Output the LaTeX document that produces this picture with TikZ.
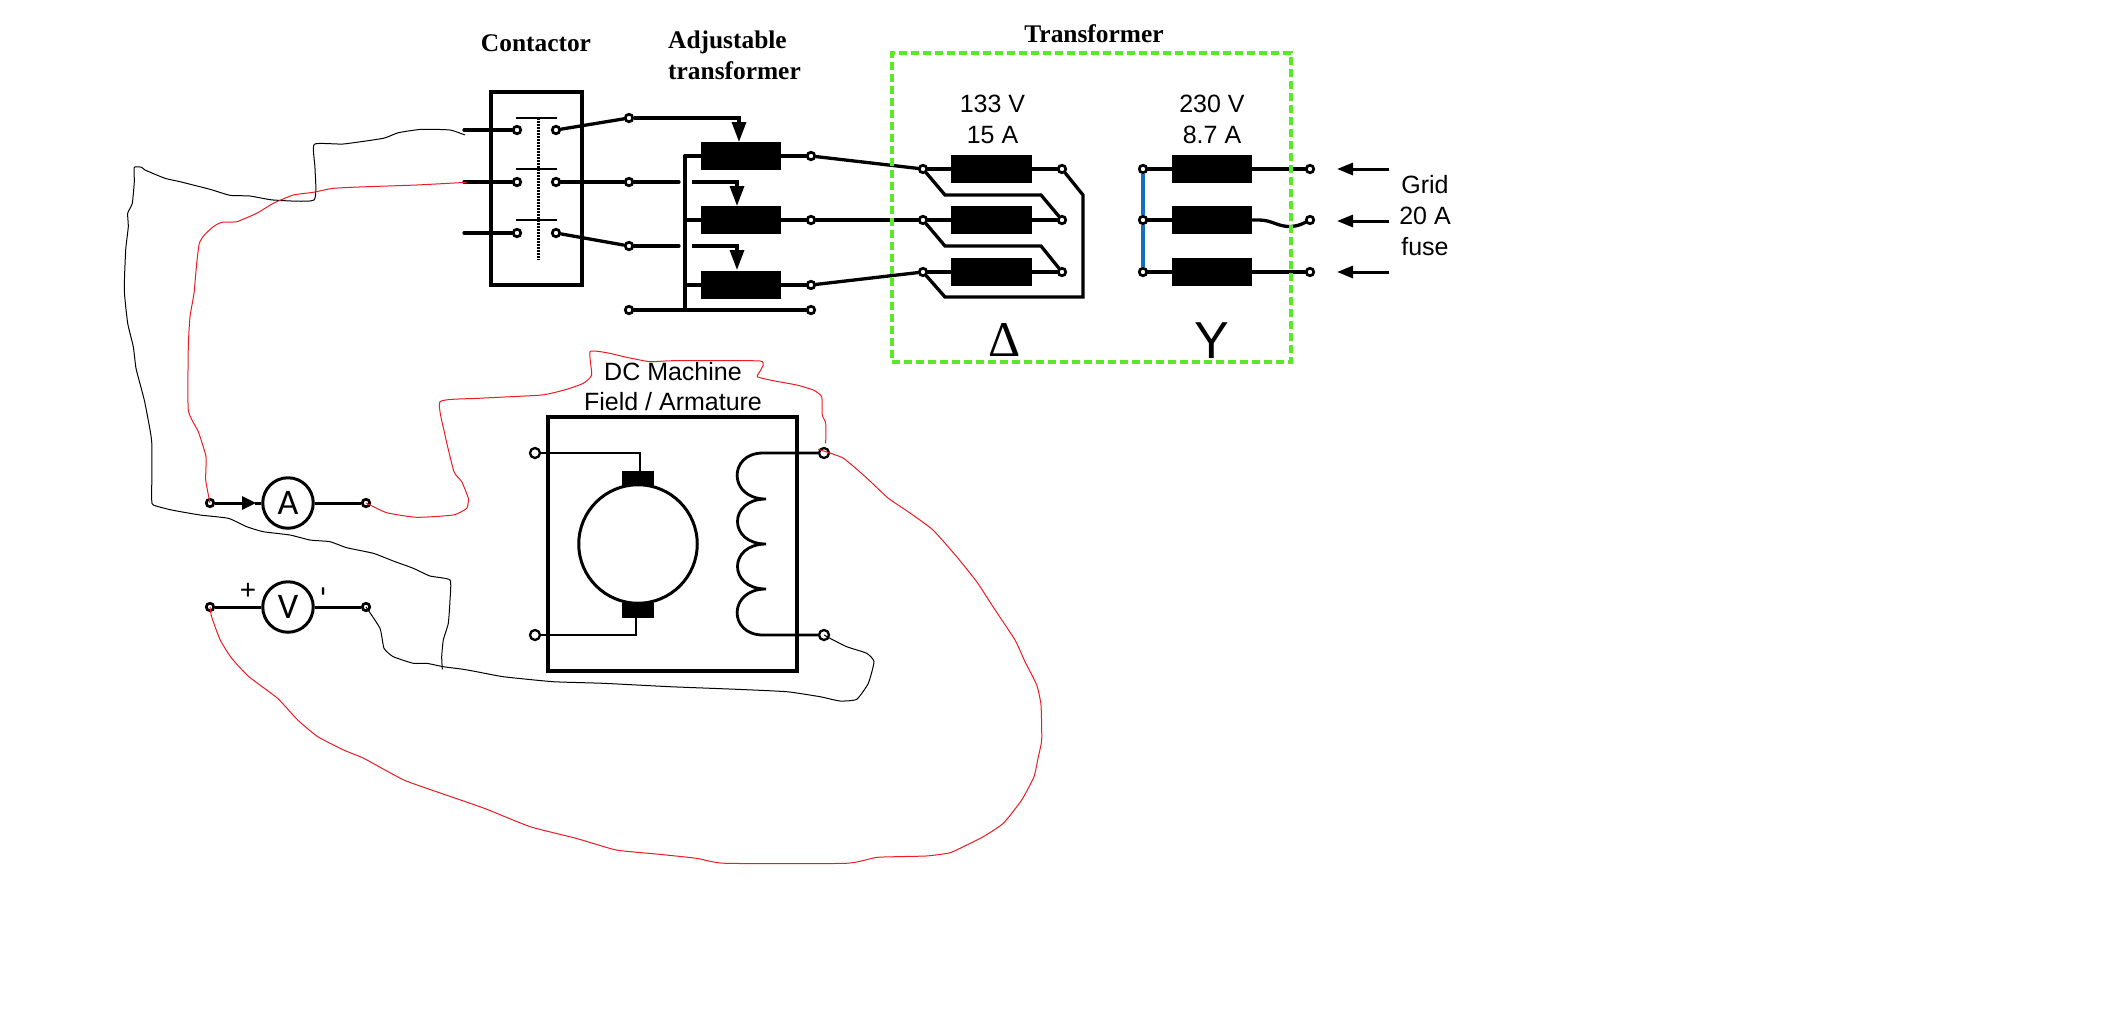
\documentclass[tikz,border=0pt]{standalone}
\usepackage{fontspec}
\setmainfont{Liberation Sans}
\newfontfamily\serifbold{Liberation Serif}
\newfontfamily\meterfont{Carlito}
\usetikzlibrary{arrows.meta}
\tikzset{
  wire/.style={line width=3.3pt,line cap=round,line join=miter},
  thinwire/.style={line width=2.8pt,line join=miter},
  term/.style={circle,draw=black,fill=white,line width=2.7pt,inner sep=0pt,minimum size=7.5pt},
  bigterm/.style={circle,draw=black,fill=white,line width=2.3pt,inner sep=0pt,minimum size=10pt},
  barbox/.style={rectangle,fill=black,inner sep=0pt,minimum width=80.5pt,minimum height=28pt},
  brush/.style={rectangle,fill=black,inner sep=0pt,minimum width=32.5pt,minimum height=15pt},
  tap/.style={line width=3.3pt,-{Triangle[length=20pt,width=14pt]}},
  grid/.style={line width=3pt,-{Triangle[length=16pt,width=12pt]}},
  head/.style={font=\serifbold\bfseries\fontsize{25.4}{31}\selectfont,inner sep=0pt},
  lab/.style={font=\fontsize{25}{31}\selectfont,inner sep=0pt},
  meter/.style={circle,draw=black,fill=white,line width=3pt,inner sep=0pt,minimum size=50.5pt,font=\meterfont\fontsize{36}{36}\selectfont},
  outline/.style={rectangle,draw=black,line width=3.2pt,inner sep=0pt},
  greenbox/.style={rectangle,draw={rgb,255:red,90;green,232;blue,40},line width=3.6pt,dash pattern=on 8pt off 4pt,inner sep=0pt,minimum width=399pt,minimum height=309pt},
  handblack/.style={draw=black,line width=1pt,line join=round},
  handred/.style={draw={rgb,255:red,237;green,28;blue,36},line width=1pt,line join=round}
}
\begin{document}
\begin{tikzpicture}[x=1pt,y=-1pt]
\fill[white] (0,0) rectangle (2113,1018);
\useasboundingbox (0,0) rectangle (2113,1018);

% headings
\node[head] (hcont) at (536,43) {Contactor};
\node[head,align=left,anchor=north west] (hadj) at (668,31) {Adjustable\\transformer};
\node[head] (htrans) at (1094,34) {Transformer};

% contactor
\node[outline,minimum width=91pt,minimum height=193pt] (contbox) at (536.5,188.5) {};
\coordinate (s1) at (464,130); \coordinate (s2) at (464,182); \coordinate (s3) at (464,233);
\node[term] (cl1) at (517,130) {}; \node[term] (cl2) at (517,182) {}; \node[term] (cl3) at (517,233) {};
\node[term] (cr1) at (556,130) {}; \node[term] (cr2) at (556,182) {}; \node[term] (cr3) at (556,233) {};
\draw[wire] (s1) -- (cl1); \draw[wire] (s2) -- (cl2); \draw[wire] (s3) -- (cl3);
\draw[line width=2.8pt] (516,118) -- (557,118) (516,169) -- (557,169) (516,220) -- (557,220);
\draw[line width=3pt,dash pattern=on 2pt off 1pt] (538,118) -- (538,260);

% adjustable transformer
\node[term] (i1) at (629,118) {}; \node[term] (i2) at (629,182) {}; \node[term] (i3) at (629,246) {};
\node[barbox] (ab1) at (741,156) {}; \node[barbox] (ab2) at (741,220) {}; \node[barbox] (ab3) at (741,285) {};
\node[term] (o1) at (811,156) {}; \node[term] (o2) at (811,220) {}; \node[term] (o3) at (811,285) {};
\node[term] (bl) at (629,310) {}; \node[term] (br) at (811,310) {};
\coordinate (g2a) at (679,182); \coordinate (g2b) at (692,182); \coordinate (g3a) at (679,246); \coordinate (g3b) at (692,246);
\coordinate (t1) at (739,142); \coordinate (t2) at (737,206); \coordinate (t3) at (737,270);
\coordinate (bus) at (685,156); \coordinate (busb) at (685,310);
\draw[wire] (cr1) -- (i1); \draw[wire] (cr2) -- (i2); \draw[wire] (cr3) -- (i3);
\draw[tap] (i1) -| (t1);
\draw[wire] (i2) -- (g2a); \draw[wire] (i3) -- (g3a);
\draw[tap] (g2b) -| (t2);
\draw[tap] (g3b) -| (t3);
\draw[wire] (bus) -- (busb);
\draw[wire] (bus) -- (ab1); \draw[wire] (ab2) -| (bus); \draw[wire] (ab3) -| (bus);
\draw[wire] (bl) -- (br);
\draw[wire] (ab1) -- (o1); \draw[wire] (ab2) -- (o2); \draw[wire] (ab3) -- (o3);

% transformer primary (delta)
\node[term] (pl1) at (923,169) {}; \node[term] (pl2) at (923,220) {}; \node[term] (pl3) at (923,272) {};
\node[term] (pr1) at (1062,169) {}; \node[term] (pr2) at (1062,220) {}; \node[term] (pr3) at (1062,272) {};
\node[barbox] (pb1) at (991.5,169) {}; \node[barbox] (pb2) at (991.5,220) {}; \node[barbox] (pb3) at (991.5,272) {};
\draw[wire] (o1) -- (pl1); \draw[wire] (o2) -- (pl2); \draw[wire] (o3) -- (pl3);
\draw[wire] (pl1) -- (pb1); \draw[wire] (pl2) -- (pb2); \draw[wire] (pl3) -- (pb3);
\draw[wire] (pb1) -- (pr1); \draw[wire] (pb2) -- (pr2); \draw[wire] (pb3) -- (pr3);
\draw[wire] (pl1) -- (945,195) -- (1041,195) -- (pr2);
\draw[wire] (pl2) -- (945,246) -- (1041,246) -- (pr3);
\draw[wire] (pl3) -- (945,297) -- (1083,297) -- (1083,195) -- (pr1);

% transformer secondary (wye)
\node[term] (wl1) at (1143,169) {}; \node[term] (wl2) at (1143,220) {}; \node[term] (wl3) at (1143,272) {};
\node[barbox] (wb1) at (1212,169) {}; \node[barbox] (wb2) at (1212,220) {}; \node[barbox] (wb3) at (1212,272) {};
\node[term] (wr1) at (1310,169) {}; \node[term] (wr2) at (1310,220) {}; \node[term] (wr3) at (1310,272) {};
\draw[wire] (wl1) -- (wb1); \draw[wire] (wl2) -- (wb2); \draw[wire] (wl3) -- (wb3);
\draw[line width=3.3pt,draw={rgb,255:red,20;green,110;blue,190}] (wl1) -- (wl2);
\draw[line width=3.3pt,draw={rgb,255:red,20;green,110;blue,190}] (wl2) -- (wl3);
\draw[wire] (wb1) -- (wr1); \draw[wire] (wb3) -- (wr3);
\draw[wire] (wb2) -- (1259,220) .. controls (1272,220) and (1278,227) .. (1291,226.5) .. controls (1298,226) and (1302,224) .. (wr2);

% transformer frame and labels
\node[greenbox] (tf) at (1091.5,207.5) {};
\node[lab] (v1) at (992.5,104) {133 V};
\node[lab] (a1) at (992.5,135) {15 A};
\node[lab] (v2) at (1212,104) {230 V};
\node[lab] (a2) at (1212,135) {8.7 A};
\node[inner sep=0pt,font=\serifbold\fontsize{50}{50}\selectfont] (delta) at (1005,340) {Δ};
\node[inner sep=0pt,font=\fontsize{52}{52}\selectfont] (wye) at (1212,341) {Y};

% grid
\coordinate (g1) at (1389,169); \coordinate (g2) at (1389,221); \coordinate (g3) at (1389,272);
\coordinate (ga1) at (1337,169); \coordinate (ga2) at (1337,221); \coordinate (ga3) at (1337,272);
\draw[grid] (g1) -- (ga1); \draw[grid] (g2) -- (ga2); \draw[grid] (g3) -- (ga3);
\node[lab] (gr1) at (1425,185) {Grid};
\node[lab] (gr2) at (1425,216) {20 A};
\node[lab] (gr3) at (1425,247) {fuse};

% DC machine
\node[lab] (dc1) at (673,372) {DC Machine};
\node[lab] (dc2) at (673,402) {Field / Armature};
\node[outline,minimum width=249pt,minimum height=254pt] (dcbox) at (672.5,544) {};
\node[circle,draw=black,line width=3pt,inner sep=0pt,minimum size=118.5pt] (rotor) at (638,544) {};
\node[brush] (br1) at (638,478.5) {}; \node[brush] (br2) at (638,610) {};
\node[bigterm] (ml1) at (535,453) {}; \node[bigterm] (ml2) at (535,635) {};
\node[bigterm] (mr1) at (824,453) {}; \node[bigterm] (mr2) at (824,635) {};
\coordinate (b1t) at (640,471.5); \coordinate (b2b) at (636,617.5);
\draw[thinwire] (ml1) -| (b1t);
\draw[thinwire] (ml2) -| (b2b);
\draw[thinwire] (mr1) -- (763,453) .. controls (728,453) and (728,499) .. (766,499)
  (766,499) .. controls (728,499) and (728,544) .. (766,544)
  (766,544) .. controls (728,544) and (728,589) .. (766,589)
  (766,589) .. controls (728,589) and (728,635) .. (763,635) -- (mr2);

% meters
\node[meter] (am) at (288,503) {A};
\node[term] (al) at (210,503) {}; \node[term] (ar) at (366,503) {};
\draw[line width=3pt,-{Triangle[length=14pt,width=13pt]}] (al) -- (256,503);
\draw[line width=3pt] (255,503) -- (am);
\draw[line width=3pt] (am) -- (ar);
\node[meter] (vm) at (288,607) {V};
\node[term] (vl) at (210,607) {}; \node[term] (vr) at (366,607) {};
\draw[line width=3pt] (vl) -- (vm); \draw[line width=3pt] (vm) -- (vr);
\node[inner sep=0pt,font=\fontsize{28}{28}\selectfont] (plus) at (248,591) {+};
\node[inner sep=0pt,rotate=90,font=\fontsize{30}{30}\selectfont] (minus) at (327,591.5) {-};

% hand-drawn wiring
\draw[handblack] plot[smooth,tension=.3] coordinates {(465,135) (450,130) (421.7,129.3) (398.3,132.7) (383.3,138.3) (343.3,144) (314.3,144.3) (315,168.3) (314,200) (273.3,200) (250,196) (230,195.3) (210,189.3) (180,181.7) (165,178.3) (145,170) (141.7,167.3) (134.3,167.3) (134.3,181.7) (132.3,203.3) (127.7,213.3) (128.3,226.7) (125.7,250) (124.3,290) (127.7,323.3) (133.3,346.7) (136,368.3) (141.7,390) (145,403.3) (151.7,441.7) (151.7,498.3) (153.3,505) (171.7,510) (200,515) (228.3,518.3) (246.7,526.7) (263.3,531.7) (290,535) (310,540) (330,541.7) (346.7,547.7) (373.3,553.3) (393.3,561) (413.3,568.3) (430,576) (450,580) (450,600) (448.3,623.3) (443.3,640) (441.7,656.7) (442.3,669.3)};
\draw[handblack] plot[smooth,tension=.3] coordinates {(vr) (380,628.3) (384,648.3) (393.3,656.7) (413.3,663.3) (426.7,663.3) (443.3,666.7) (463.3,669.3) (476.7,671.7) (503.3,676.7) (553.3,681.7) (603.3,683.3) (670,686.7) (736.7,689.3) (786.7,691.7) (820,696.7) (840,701) (856.7,699.3) (868.3,683.3) (874,661.7) (866.7,653.3) (846.7,646.7) (830,638.3) (mr2)};
\draw[handred] plot[smooth,tension=.3] coordinates {(466.7,182.3) (416.7,185) (366.7,186.7) (333.3,188.3) (313.3,192.3) (293.3,195) (273.3,203.3) (256.7,213.3) (236.7,221.7) (221.7,222.3) (213.3,226.7) (204.3,235) (199.3,243.3) (196.7,263.3) (194,293.3) (190,316.7) (188.3,346.7) (188.3,410) (198.3,431.7) (206,456.7) (205.7,480) (al)};
\draw[handred] plot[smooth,tension=.3] coordinates {(ar) (386.7,512.7) (416.7,517.3) (453.3,515) (466.7,508.3) (468.3,498.3) (461.7,481.7) (454,471.7) (445,435) (440,401.7) (478.3,398.3) (541.7,395) (566.7,389.3) (583.3,383.3) (591.7,375) (590,351.7) (606.7,352.7) (626.7,357.3) (650,361.7) (673.3,360.7) (760,361) (760.7,370) (757.3,376.7) (773.3,380.7) (796.7,385) (813.3,390) (821.7,396.7) (822.3,415) (825.7,423.3) (825.7,443.3)};
\draw[handred] plot[smooth,tension=.3] coordinates {(818.3,449.3) (843,458) (866.7,478) (888,498) (910,513) (933,530) (956.7,556.7) (976.7,581.7) (993,606.7) (1015,640) (1025,661.7) (1036.7,685) (1041,705) (1041.7,740) (1038.3,756.7) (1034,776.7) (1021.7,800) (1003.3,823.3) (983.3,836.7) (960,848.3) (949,853) (926,856) (877.5,857.3) (846,863.3) (725.3,863.3) (696.7,858.3) (656.5,854) (616.3,850) (576,838.3) (530.2,826.7) (484.3,808.3) (444,794.3) (403.9,780) (363.7,758.3) (343.6,750) (317.8,736.7) (297.7,720) (277.6,698.3) (248.9,676.7) (231.7,658.3) (220.2,640) (211.6,616.7) (vl)};
\end{tikzpicture}
\end{document}
